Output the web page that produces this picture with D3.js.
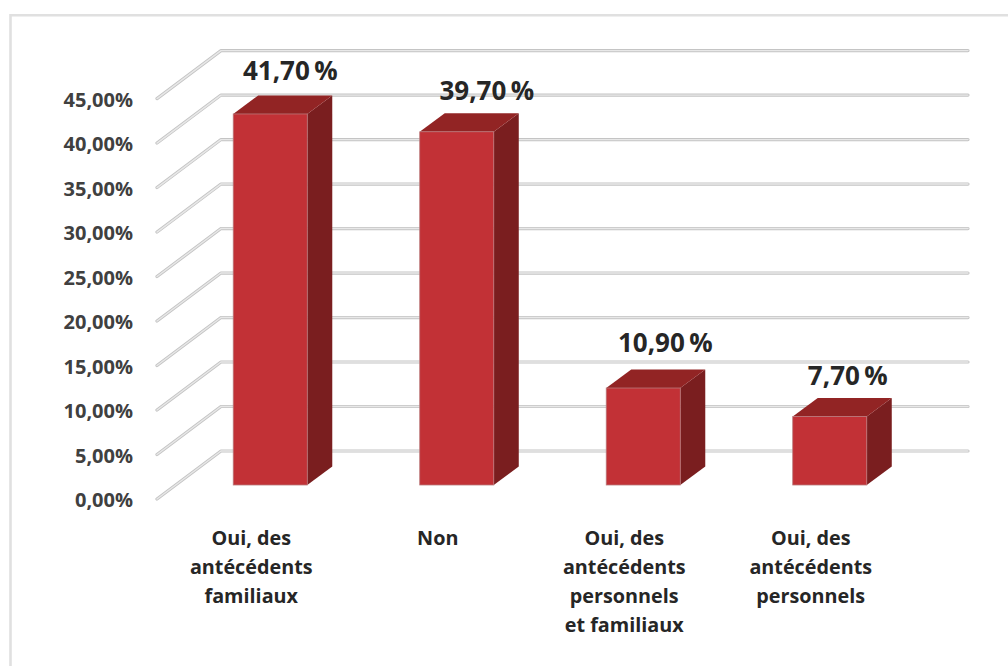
<!DOCTYPE html>
<html><head><meta charset="utf-8">
<script src="https://cdn.jsdelivr.net/npm/d3@7/dist/d3.min.js"></script>
<style>html,body{margin:0;padding:0;background:#fff}svg{display:block}text{font-family:"Open Sans",Lato,sans-serif;font-weight:700;fill:#262626}</style>
</head><body><svg id="c" width="1008" height="666"></svg>
<script>
const categories = [
  ["Oui, des","antécédents","familiaux"],
  ["Non"],
  ["Oui, des","antécédents","personnels","et familiaux"],
  ["Oui, des","antécédents","personnels"]
];
const values = [41.7, 39.7, 10.9, 7.7];
const valueLabels = ["41,70\u2009%","39,70\u2009%","10,90\u2009%","7,70\u2009%"];
const tickValues = [0,5,10,15,20,25,30,35,40,45];
const tickLabels = ["0,00%","5,00%","10,00%","15,00%","20,00%","25,00%","30,00%","35,00%","40,00%","45,00%"];
// hand-placed data labels in the reference: offset from the bar's front-top centre
const labelDx = [20, 30, 22, 18];
const labelDy = [-34, -32, -36, -31];

const svg = d3.select("#c");
svg.append("path").attr("d",d3.line()([[10.5,666],[10.5,15.3],[1008,15.3]]))
  .attr("fill","none").attr("stroke","#e0e0e0").attr("stroke-width",2.6);

const y = d3.scaleLinear().domain([0,45]).range([499,98.6]);
const x = d3.scaleBand().domain(d3.range(categories.length)).range([177,923]).paddingInner(0.603).paddingOuter(0.3015);
const wallDx = 64, wallDy = -48, wallLeft = 157, wallRight = 968;
const barDy = -14, depthX = 25, depthY = -18.5, catDx = -19;

const grid = svg.append("g").attr("fill","none");
tickValues.forEach(t=>{
  const pts = [[wallLeft,y(t)],[wallLeft+wallDx,y(t)+wallDy],[wallRight,y(t)+wallDy]];
  grid.append("path").attr("d",d3.line()(pts)).attr("stroke","#c4c4c4").attr("stroke-width",3.2).attr("stroke-linecap","round").attr("stroke-linejoin","round");
  grid.append("path").attr("d",d3.line()(pts)).attr("stroke","#e8e8e8").attr("stroke-width",1.4).attr("stroke-linecap","round").attr("stroke-linejoin","round");
});

svg.append("g").selectAll("text").data(tickValues).join("text")
  .attr("x",133).attr("y",d=>y(d)+1).attr("dy","0.35em").attr("text-anchor","end")
  .attr("font-size",20).style("fill","#404040").text((d,i)=>tickLabels[i]);

const bars = svg.append("g").selectAll("g").data(values).join("g");
const poly = d3.line();
bars.each(function(v,i){
  const g = d3.select(this), x0=x(i), w=x.bandwidth(), b=y(0)+barDy, t=y(v)+barDy;
  g.append("path").attr("d",poly([[x0+w,t],[x0+w+depthX,t+depthY],[x0+w+depthX,b+depthY],[x0+w,b]])+"Z").attr("fill","#7a1e1f");
  g.append("path").attr("d",poly([[x0,t],[x0+depthX,t+depthY],[x0+w+depthX,t+depthY],[x0+w,t]])+"Z").attr("fill","#922424");
  g.append("rect").attr("x",x0).attr("y",t).attr("width",w).attr("height",b-t).attr("fill","#c23136").attr("stroke","#b9787a").attr("stroke-width",0.8);
});

svg.append("g").selectAll("text").data(values).join("text")
  .attr("x",(d,i)=>x(i)+x.bandwidth()/2+labelDx[i]).attr("y",(d,i)=>y(d)+barDy+labelDy[i])
  .attr("text-anchor","middle").attr("font-size",26).text((d,i)=>valueLabels[i]);

const cats = svg.append("g").selectAll("text").data(categories).join("text")
  .attr("text-anchor","middle").attr("font-size",19.8);
cats.each(function(lines,i){
  d3.select(this).selectAll("tspan").data(lines).join("tspan")
    .attr("x",x(i)+x.bandwidth()/2+catDx).attr("y",(d,k)=>545+k*29).text(d=>d);
});
</script></body></html>
